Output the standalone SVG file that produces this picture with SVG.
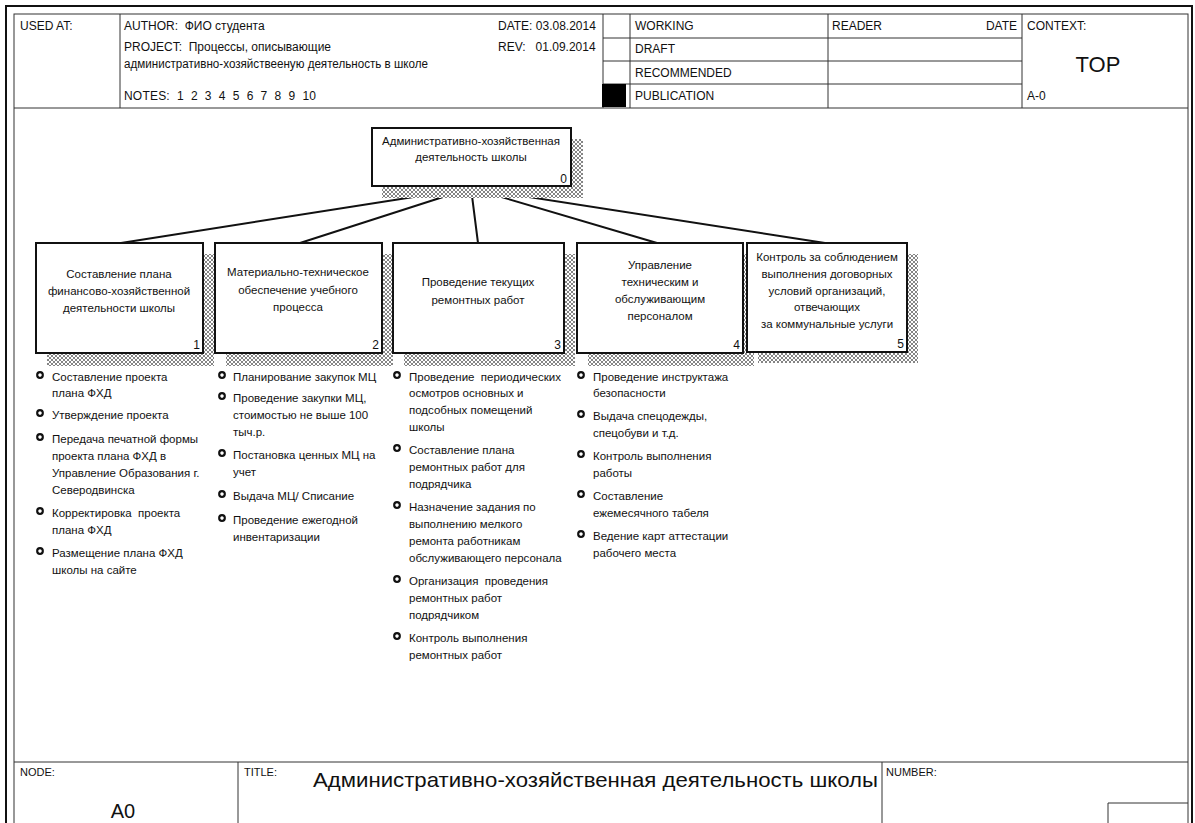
<svg xmlns="http://www.w3.org/2000/svg" width="1195" height="823" viewBox="0 0 1195 823">
<defs>
<pattern id="hatch" width="4" height="4" patternUnits="userSpaceOnUse">
<rect width="4" height="4" fill="#fff"/>
<path d="M0,0 L4,4 M4,0 L0,4" stroke="#666" stroke-width="0.8"/>
</pattern>
<g id="bul"><circle r="2.8" fill="none" stroke="#111" stroke-width="2.2"/></g>
</defs>
<style>
text{font-family:"Liberation Sans",Arial,sans-serif;fill:#111}
.h{font-size:12px}
.s{font-size:11px}
.bt{font-size:11.5px;text-anchor:middle}
.li{font-size:11.5px}
.n{font-size:12px;text-anchor:end}
.box{fill:#fff;stroke:#111;stroke-width:2}
.sh{fill:url(#hatch)}
.grid{stroke:#333;stroke-width:1;fill:none}
.con{stroke:#111;stroke-width:2;fill:none}
</style>
<rect width="1195" height="823" fill="#fff"/>
<g id="frame">
<rect x="6" y="6" width="1186" height="830" fill="none" stroke="#111" stroke-width="2"/>
<rect x="14" y="14" width="1174" height="820" fill="none" stroke="#333" stroke-width="1"/>
<path class="grid" d="M14,108H1188 M120,14V108 M603,14V108 M630,14V108 M828,14V108 M1022,14V108 M603,38H1022 M603,61H1022 M603,84H1022 M14,762H1188 M238,762V823 M882,762V823 M1108,803H1188 M1108,803V823"/>
<rect x="602" y="84" width="24" height="23" fill="#000"/>
<text class="h" x="20" y="30">USED AT:</text>
<text class="h" x="124" y="30" xml:space="preserve">AUTHOR:  ФИО студента</text>
<text class="h" x="124" y="51" xml:space="preserve">PROJECT:  Процессы, описывающие</text>
<text class="h" x="124" y="68" textLength="304" lengthAdjust="spacingAndGlyphs">административно-хозяйствееную деятельность в школе</text>
<text class="h" x="124" y="100" xml:space="preserve" textLength="192">NOTES:  1  2  3  4  5  6  7  8  9  10</text>
<text class="h" x="498" y="30">DATE: 03.08.2014</text>
<text class="h" x="498" y="51" xml:space="preserve">REV:   01.09.2014</text>
<text class="h" x="635" y="30">WORKING</text>
<text class="h" x="635" y="53">DRAFT</text>
<text class="h" x="635" y="77">RECOMMENDED</text>
<text class="h" x="635" y="100">PUBLICATION</text>
<text class="h" x="832" y="30">READER</text>
<text class="h" x="1017" y="30" text-anchor="end">DATE</text>
<text class="h" x="1027" y="30">CONTEXT:</text>
<text x="1098" y="72" font-size="22" text-anchor="middle">TOP</text>
<text class="h" x="1027" y="100">A-0</text>
<text class="s" x="20" y="776">NODE:</text>
<text x="123" y="818" font-size="20" text-anchor="middle">A0</text>
<text class="s" x="244" y="776">TITLE:</text>
<text x="313" y="787" font-size="21" textLength="565" lengthAdjust="spacingAndGlyphs">Административно-хозяйственная деятельность школы</text>
<text class="s" x="886" y="776">NUMBER:</text>
</g>
<g id="connectors">
<path class="con" d="M471,188 L121,243 M471,188 L300,243 M471,188 L478,243 M471,188 L657,243 M471,188 L825,243"/>
<path d="M748,250 L754,244" stroke="#111" stroke-width="1.5"/>
</g>
<g id="node0">
<rect class="sh" x="382" y="139" width="201" height="59"/>
<rect class="box" x="372" y="128" width="199" height="58"/>
<text class="bt" x="471" y="145">Административно-хозяйственная</text>
<text class="bt" x="471" y="161">деятельность школы</text>
<text class="n" x="567" y="183">0</text>
</g>
<g id="node1">
<rect class="sh" x="47" y="254" width="167" height="112"/>
<rect class="box" x="36" y="243" width="167" height="110"/>
<text class="bt" x="119" y="278">Составление плана</text>
<text class="bt" x="119" y="295">финансово-хозяйственной</text>
<text class="bt" x="119" y="312">деятельности школы</text>
<text class="n" x="200" y="349">1</text>
</g>
<g id="node2">
<rect class="sh" x="226" y="254" width="167" height="112"/>
<rect class="box" x="215" y="243" width="167" height="110"/>
<text class="bt" x="298" y="276">Материально-техническое</text>
<text class="bt" x="298" y="294">обеспечение учебного</text>
<text class="bt" x="298" y="311">процесса</text>
<text class="n" x="379" y="349">2</text>
</g>
<g id="node3">
<rect class="sh" x="404" y="254" width="171" height="112"/>
<rect class="box" x="393" y="243" width="171" height="110"/>
<text class="bt" x="478" y="286">Проведение текущих</text>
<text class="bt" x="478" y="304">ремонтных работ</text>
<text class="n" x="561" y="349">3</text>
</g>
<g id="node4">
<rect class="sh" x="588" y="254" width="166" height="112"/>
<rect class="box" x="577" y="243" width="166" height="110"/>
<text class="bt" x="660" y="269">Управление</text>
<text class="bt" x="660" y="286">техническим и</text>
<text class="bt" x="660" y="303">обслуживающим</text>
<text class="bt" x="660" y="320">персоналом</text>
<text class="n" x="740" y="349">4</text>
</g>
<g id="node5">
<rect class="sh" x="758" y="254" width="160" height="109"/>
<rect class="box" x="747" y="243" width="160" height="109"/>
<text class="bt" x="827" y="261">Контроль за соблюдением</text>
<text class="bt" x="827" y="278">выполнения договорных</text>
<text class="bt" x="827" y="295">условий организаций,</text>
<text class="bt" x="827" y="311">отвечающих</text>
<text class="bt" x="827" y="328">за коммунальные услуги</text>
<text class="n" x="904" y="348">5</text>
</g>
<g id="list1">
<use href="#bul" x="40" y="375"/><use href="#bul" x="40" y="413"/><use href="#bul" x="40" y="437"/><use href="#bul" x="40" y="511"/><use href="#bul" x="40" y="551"/>
<text class="li" x="52" y="381">Составление проекта</text>
<text class="li" x="52" y="397">плана ФХД</text>
<text class="li" x="52" y="419">Утверждение проекта</text>
<text class="li" x="52" y="443">Передача печатной формы</text>
<text class="li" x="52" y="460">проекта плана ФХД в</text>
<text class="li" x="52" y="477">Управление Образования г.</text>
<text class="li" x="52" y="494">Северодвинска</text>
<text class="li" x="52" y="517" xml:space="preserve">Корректировка  проекта</text>
<text class="li" x="52" y="534">плана ФХД</text>
<text class="li" x="52" y="557">Размещение плана ФХД</text>
<text class="li" x="52" y="574">школы на сайте</text>
</g>
<g id="list2">
<use href="#bul" x="222" y="375"/><use href="#bul" x="222" y="396"/><use href="#bul" x="222" y="453"/><use href="#bul" x="222" y="494"/><use href="#bul" x="222" y="518"/>
<text class="li" x="233" y="381">Планирование закупок МЦ</text>
<text class="li" x="233" y="402">Проведение закупки МЦ,</text>
<text class="li" x="233" y="419">стоимостью не выше 100</text>
<text class="li" x="233" y="436">тыч.р.</text>
<text class="li" x="233" y="459">Постановка ценных МЦ на</text>
<text class="li" x="233" y="476">учет</text>
<text class="li" x="233" y="500">Выдача МЦ/ Списание</text>
<text class="li" x="233" y="524">Проведение ежегодной</text>
<text class="li" x="233" y="541">инвентаризации</text>
</g>
<g id="list3">
<use href="#bul" x="397" y="375"/><use href="#bul" x="397" y="448"/><use href="#bul" x="397" y="505"/><use href="#bul" x="397" y="579"/><use href="#bul" x="397" y="636"/>
<text class="li" x="409" y="381" xml:space="preserve">Проведение  периодических</text>
<text class="li" x="409" y="397">осмотров основных и</text>
<text class="li" x="409" y="414">подсобных помещений</text>
<text class="li" x="409" y="431">школы</text>
<text class="li" x="409" y="454">Составление плана</text>
<text class="li" x="409" y="471">ремонтных работ для</text>
<text class="li" x="409" y="488">подрядчика</text>
<text class="li" x="409" y="511">Назначение задания по</text>
<text class="li" x="409" y="528">выполнению мелкого</text>
<text class="li" x="409" y="545">ремонта работникам</text>
<text class="li" x="409" y="562">обслуживающего персонала</text>
<text class="li" x="409" y="585" xml:space="preserve">Организация  проведения</text>
<text class="li" x="409" y="602">ремонтных работ</text>
<text class="li" x="409" y="619">подрядчиком</text>
<text class="li" x="409" y="642">Контроль выполнения</text>
<text class="li" x="409" y="659">ремонтных работ</text>
</g>
<g id="list4">
<use href="#bul" x="581" y="375"/><use href="#bul" x="581" y="414"/><use href="#bul" x="581" y="454"/><use href="#bul" x="581" y="494"/><use href="#bul" x="581" y="534"/>
<text class="li" x="593" y="381">Проведение инструктажа</text>
<text class="li" x="593" y="397">безопасности</text>
<text class="li" x="593" y="420">Выдача спецодежды,</text>
<text class="li" x="593" y="437">спецобуви и т.д.</text>
<text class="li" x="593" y="460">Контроль выполнения</text>
<text class="li" x="593" y="477">работы</text>
<text class="li" x="593" y="500">Составление</text>
<text class="li" x="593" y="517">ежемесячного табеля</text>
<text class="li" x="593" y="540">Ведение карт аттестации</text>
<text class="li" x="593" y="557">рабочего места</text>
</g>
</svg>
